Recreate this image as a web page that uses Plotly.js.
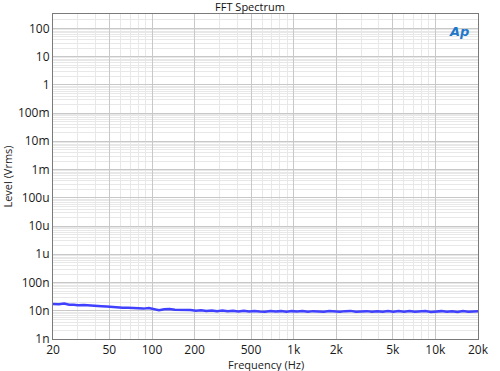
<!DOCTYPE html>
<html><head><meta charset="utf-8">
<script src="https://cdn.plot.ly/plotly-3.0.1.min.js"></script>
<style>html,body{margin:0;padding:0;background:#fff}#c{width:500px;height:371px}</style>
</head><body><div id="c"></div>
<script>
const freqHz = [20,22,24,26,28,30,33,36,40,44,48,52,57,62,68,74,80,87,95,103,112,122,133,145,158,172,187,204,222,242,264,288,314,342,373,407,444,484,528,576,628,685,747,815,889,970,1058,1154,1259,1373,1498,1634,1782,1944,2121,2313,2523,2752,3002,3275,3572,3896,4250,4636,5057,5516,6017,6563,7159,7809,8518,9291,10135,11055,12059,13154,14348,15651,17072,18622,20000];
const levelNano = [17.5,17.1,17.9,16.4,16.3,15.6,15.9,15.2,14.9,14.4,14.1,13.6,13.3,12.7,12.9,12.4,12.6,11.9,12.4,11.3,10.5,11.4,11.6,10.8,10.9,10.4,10.7,10.1,10.5,9.8,10.3,9.7,10.1,9.6,10.0,9.5,9.9,9.4,9.8,9.5,9.3,9.8,9.4,9.7,9.2,9.7,9.4,9.8,9.3,9.7,9.4,9.3,9.8,9.4,9.2,9.7,9.9,9.3,9.6,9.7,9.2,9.6,9.3,9.7,9.2,9.8,9.3,9.7,9.2,9.6,9.8,9.1,9.5,9.7,9.2,9.6,9.1,9.7,9.3,9.2,9.6];
const xTickVals = [20,50,100,200,500,1000,2000,5000,10000,20000];
const xTickText = ['20','50','100','200','500','1k','2k','5k','10k','20k'];
const yTickVals = [1e-9,1e-8,1e-7,1e-6,1e-5,1e-4,1e-3,1e-2,1e-1,1,10,100];
const yTickText = ['1n','10n','100n','1u','10u','100u','1m','10m','100m','1','10','100'];

const levelV = levelNano.map(v => v * 1e-9);
const xMinor = [];
for (let d = 10; d <= 10000; d *= 10) for (let m = 1; m <= 9; m++) {
  const f = m * d; if (f > 20 && f < 20000 && !xTickVals.includes(f)) xMinor.push(f);
}
const yMinor = [];
for (let e = -9; e <= 2; e++) for (let m = 2; m <= 9; m++) yMinor.push(m * Math.pow(10, e));

const font = {family: 'Open Sans, Roboto, sans-serif', color: '#222'};
Plotly.newPlot('c', [{
  x: freqHz, y: levelV, type: 'scatter', mode: 'lines',
  line: {color: '#4040ff', width: 2.5}, hoverinfo: 'skip'
}], {
  width: 500, height: 371,
  margin: {l: 53, r: 22, t: 14, b: 32, pad: 0},
  paper_bgcolor: '#fff', plot_bgcolor: '#fff',
  font: font,
  showlegend: false,
  title: {text: 'FFT Spectrum', font: {size: 11, color: '#111', family: font.family}, x: 0.5, xanchor: 'center', y: 0.99, yanchor: 'top'},
  xaxis: {
    type: 'log', range: [Math.log10(20), Math.log10(20000)],
    tickmode: 'array', tickvals: xTickVals, ticktext: xTickText,
    tickfont: {size: 12, color: '#1a1a1a'}, ticks: '', ticklen: 0,
    showgrid: true, gridcolor: '#c8c8c8', gridwidth: 1,
    minor: {tickmode: 'array', tickvals: xMinor, showgrid: true, gridcolor: '#e8e8e8', gridwidth: 1, ticks: ''},
    showline: true, linecolor: '#7a7a7a', linewidth: 1, mirror: true, zeroline: false
  },
  yaxis: {
    type: 'log', range: [-9, 2.507],
    tickmode: 'array', tickvals: yTickVals, ticktext: yTickText,
    tickfont: {size: 12, color: '#1a1a1a'}, ticks: '', ticklen: 0,
    showgrid: true, gridcolor: '#c8c8c8', gridwidth: 1,
    minor: {tickmode: 'array', tickvals: yMinor, showgrid: true, gridcolor: '#e8e8e8', gridwidth: 1, ticks: ''},
    showline: true, linecolor: '#7a7a7a', linewidth: 1, mirror: true, zeroline: false,
    title: {text: 'Level (Vrms)', font: {size: 11, color: '#222'}, standoff: 4}
  },
  annotations: [{
    xref: 'paper', yref: 'paper', x: 0.955, y: 0.945, xanchor: 'center', yanchor: 'middle',
    text: '<b><i>Ap</i></b>', showarrow: false,
    font: {size: 13, color: '#1f78c8', family: 'DejaVu Sans, sans-serif'}
  }, {
    xref: 'paper', yref: 'paper', x: 0.5, y: 0, xanchor: 'center', yanchor: 'top',
    yshift: -16, text: 'Frequency (Hz)', showarrow: false,
    font: {size: 11, color: '#222'}
  }]
}, {staticPlot: true, displayModeBar: false});
</script></body></html>
